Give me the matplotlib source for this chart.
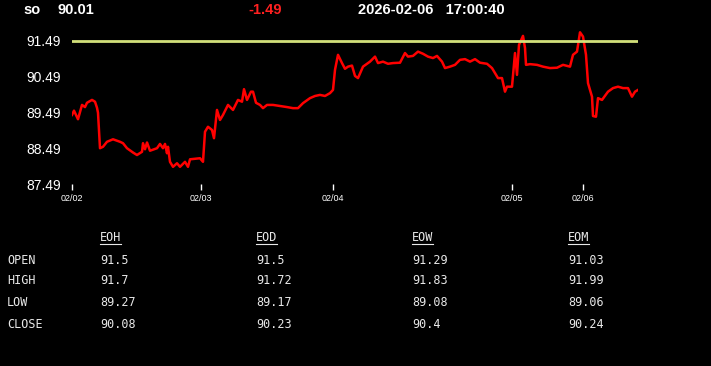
import matplotlib
matplotlib.use("Agg")
import matplotlib.pyplot as plt
from matplotlib.lines import Line2D

# price trace (bar index, price)
bar_idx = [0, 2, 6, 10, 13, 15, 20, 23, 25, 26, 28, 31, 35, 41, 48, 51, 55, 61, 65, 70,
           71, 73, 75, 78, 85, 88, 91, 93, 95, 96, 98, 101, 105, 108, 113, 116, 118, 128, 131, 133,
           136, 140, 142, 145, 148, 151, 156, 161, 166, 170, 172, 175, 179, 181, 184, 188, 191, 195, 201, 208,
           215, 221, 226, 231, 238, 243, 248, 253, 258, 261, 263, 266, 270, 273, 276, 280, 283, 286, 291, 298,
           303, 306, 311, 316, 321, 328, 333, 336, 341, 346, 351, 356, 361, 365, 370, 373, 378, 383, 388, 393,
           398, 403, 408, 415, 420, 423, 426, 430, 433, 435, 440, 442, 443, 445, 447, 451, 453, 454, 458, 465,
           471, 478, 485, 491, 498, 501, 505, 508, 511, 514, 516, 520, 521, 524, 526, 530, 536, 541, 546, 551,
           556, 560, 563, 566]
price = [89.42, 89.54, 89.30, 89.70, 89.64, 89.76, 89.84, 89.79, 89.62, 89.48, 88.49, 88.53, 88.67, 88.74, 88.67, 88.63, 88.49, 88.37, 88.30, 88.39,
         88.63, 88.46, 88.65, 88.42, 88.49, 88.61, 88.49, 88.61, 88.35, 88.53, 88.11, 87.97, 88.07, 87.97, 88.11, 87.97, 88.18, 88.21, 88.11, 88.95,
         89.09, 89.00, 88.77, 89.56, 89.28, 89.42, 89.70, 89.56, 89.84, 89.79, 90.14, 89.84, 90.07, 90.07, 89.76, 89.70, 89.61, 89.70, 89.70, 89.67,
         89.64, 89.61, 89.61, 89.75, 89.89, 89.95, 89.98, 89.95, 90.03, 90.12, 90.68, 91.10, 90.87, 90.71, 90.77, 90.80, 90.51, 90.45, 90.77, 90.91,
         91.05, 90.87, 90.91, 90.85, 90.87, 90.88, 91.15, 91.05, 91.07, 91.19, 91.13, 91.05, 91.01, 91.07, 90.91, 90.73, 90.77, 90.82, 90.96, 90.98,
         90.91, 90.98, 90.88, 90.85, 90.73, 90.59, 90.45, 90.45, 90.07, 90.21, 90.21, 90.82, 91.15, 90.54, 91.38, 91.63, 91.29, 90.82, 90.84, 90.82,
         90.77, 90.73, 90.74, 90.82, 90.77, 91.10, 91.19, 91.73, 91.61, 91.10, 90.31, 89.93, 89.39, 89.37, 89.89, 89.84, 90.07, 90.17, 90.21, 90.17,
         90.17, 89.93, 90.07, 90.12]

ref_level = 91.49
y_ticks = [87.49, 88.49, 89.49, 90.49, 91.49]
x_tick_pos = [0, 129, 261, 440, 511]
x_tick_labels = ["02/02", "02/03", "02/04", "02/05", "02/06"]

symbol = "so"
last = "90.01"
change = "-1.49"
stamp = "2026-02-06   17:00:40"

cols = ["EOH", "EOD", "EOW", "EOM"]
rows = ["OPEN", "HIGH", "LOW", "CLOSE"]
table = [["91.5", "91.5", "91.29", "91.03"],
         ["91.7", "91.72", "91.83", "91.99"],
         ["89.27", "89.17", "89.08", "89.06"],
         ["90.08", "90.23", "90.4", "90.24"]]

W, H = 711, 366
fig = plt.figure(figsize=(W / 100, H / 100), dpi=100, facecolor="black")


def fx(px):
    return px / W


def fy(py):
    return 1 - py / H


ax = fig.add_axes([fx(72), fy(184), fx(638) - fx(72), fy(28) - fy(184)])
ax.set_facecolor("black")
ax.plot(bar_idx, price, color="#ff0000", lw=1.8)
ax.axhline(ref_level, color="#d2e07a", lw=2)
ax.set_xlim(0, 566)
ax.set_ylim(87.49, 91.85)
for s in ax.spines.values():
    s.set_visible(False)
ax.set_yticks(y_ticks)
ax.set_yticklabels(["%.2f" % v for v in y_ticks], fontsize=10, color="white", family="Liberation Sans")
ax.tick_params(axis="y", length=0, pad=8)
ax.set_xticks(x_tick_pos)
ax.set_xticklabels(x_tick_labels, fontsize=6.5, color="white", family="Liberation Sans")
ax.tick_params(axis="x", length=4, width=1, color="white", pad=3, direction="out")

hdr = dict(fontsize=10.5, fontweight="bold", family="Liberation Sans", va="center")
fig.text(fx(23), fy(10), symbol, color="white", **hdr)
fig.text(fx(57), fy(10), last, color="white", **hdr)
fig.text(fx(248), fy(10), change, color="#ff2020", **hdr)
fig.text(fx(358), fy(10), stamp, color="white", **hdr)

mono = dict(fontsize=8.5, family="DejaVu Sans Mono", va="center", color="#e8e8e8")
col_x = [100, 256, 412, 568]
row_y = [260, 281, 303, 325]
for cx, name in zip(col_x, cols):
    fig.text(fx(cx), fy(238), name, **mono)
    fig.add_artist(Line2D([fx(cx), fx(cx + 21)], [fy(244), fy(244)], color="#e8e8e8", lw=0.8))
for ry, name, vals in zip(row_y, rows, table):
    fig.text(fx(7), fy(ry), name, **mono)
    for cx, v in zip(col_x, vals):
        fig.text(fx(cx), fy(ry), v, **mono)

fig.savefig("out.png", dpi=100, facecolor="black")
